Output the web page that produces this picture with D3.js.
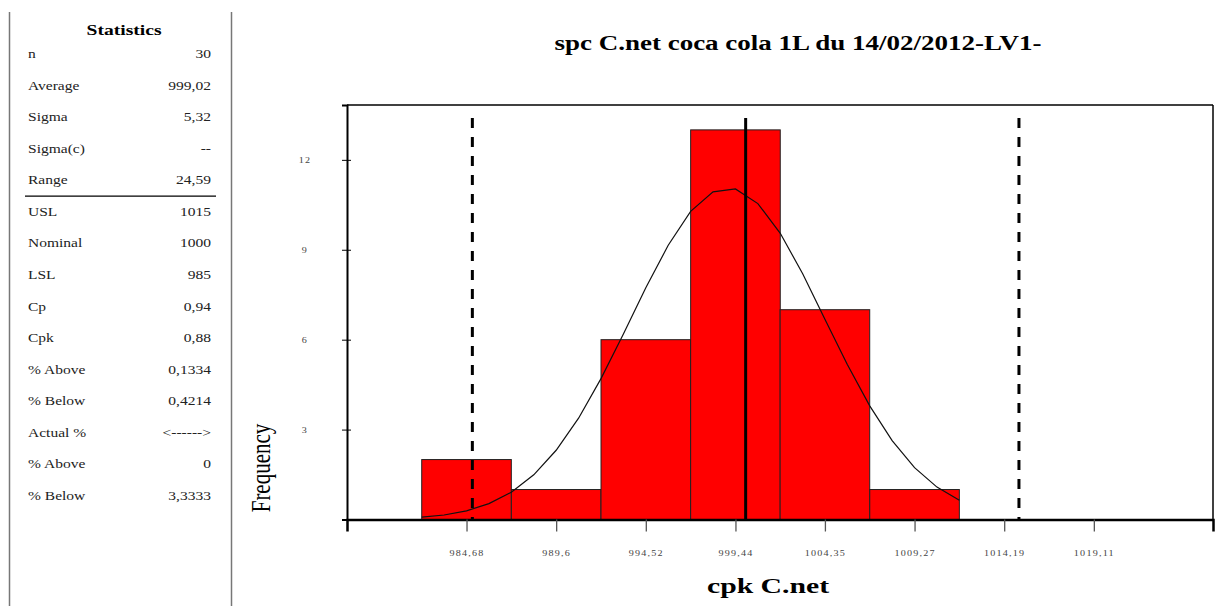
<!DOCTYPE html>
<html>
<head>
<meta charset="utf-8">
<script src="https://cdnjs.cloudflare.com/ajax/libs/d3/7.8.5/d3.min.js"></script>
<style>
  html, body { margin: 0; padding: 0; background: #fff; }
  svg { display: block; }
  text { font-family: "Liberation Serif", "Times New Roman", serif; }
</style>
</head>
<body>
<div id="chart"></div>
<script>
// --- data ---
const statLabels = ['n', 'Average', 'Sigma', 'Sigma(c)', 'Range', 'USL', 'Nominal', 'LSL',
  'Cp', 'Cpk', '% Above', '% Below', 'Actual %', '% Above', '% Below'];
const statValues = ['30', '999,02', '5,32', '--', '24,59', '1015', '1000', '985',
  '0,94', '0,88', '0,1334', '0,4214', '<------>', '0', '3,3333'];

const binCenters = [984.68, 989.6, 994.52, 999.44, 1004.35, 1009.27];
const binWidth = 4.918;
const counts = [2, 1, 6, 13, 7, 1];

const xTickValues = [984.68, 989.6, 994.52, 999.44, 1004.35, 1009.27, 1014.19, 1019.11];
const xTickLabels = ['984,68', '989,6', '994,52', '999,44', '1004,35', '1009,27', '1014,19', '1019,11'];
const yTickValues = [3, 6, 9, 12];

// fitted curve, vertices
const curveX = [982.22, 983.45, 984.68, 985.91, 987.14, 988.37, 989.6, 990.83, 992.06, 993.29,
  994.52, 995.75, 996.98, 998.21, 999.44, 1000.67, 1001.9, 1003.13, 1004.35, 1005.58,
  1006.81, 1008.04, 1009.27, 1010.5, 1011.73];
const curveY = [0.08, 0.15, 0.29, 0.53, 0.91, 1.49, 2.31, 3.38, 4.7, 6.19,
  7.73, 9.15, 10.28, 10.93, 11.03, 10.54, 9.55, 8.2, 6.68, 5.17,
  3.79, 2.63, 1.73, 1.08, 0.64];

const LSL = 985, NOMINAL = 1000, USL = 1015;

const W = 1219, H = 606;
const SX = 1.35; // the picture's text is stretched sideways

let svg = d3.select('#chart').append('svg')
  .attr('width', W)
  .attr('height', H);

// stretched text helper
function stext(g, x, y, str, opts) {
  return g.append('text')
    .attr('transform', `translate(${x},${y}) scale(${SX},1)`)
    .attr('text-anchor', opts.anchor || 'start')
    .attr('font-size', opts.size)
    .attr('font-weight', opts.weight || 'normal')
    .attr('fill', opts.fill || '#000')
    .text(str);
}

// ---- statistics panel ----
let panel = svg.append('g');
panel.append('line').attr('x1', 9.5).attr('x2', 9.5).attr('y1', 12).attr('y2', H)
  .attr('stroke', '#777').attr('stroke-width', 1.5);
panel.append('line').attr('x1', 231.5).attr('x2', 231.5).attr('y1', 12).attr('y2', H)
  .attr('stroke', '#777').attr('stroke-width', 1.5);

stext(panel, 124, 35, 'Statistics', { anchor: 'middle', size: 14.5, weight: 'bold' });

let rowY = d3.scaleLinear().domain([0, statLabels.length - 1]).range([58, 500]);
statLabels.forEach((lab, i) => {
  stext(panel, 28, rowY(i), lab, { size: 11.5, fill: '#222' });
  stext(panel, 211, rowY(i), statValues[i], { anchor: 'end', size: 11.5, fill: '#222' });
});
// separator under Range
panel.append('line')
  .attr('x1', 25).attr('x2', 216)
  .attr('y1', (rowY(4) + rowY(5)) / 2 - 4).attr('y2', (rowY(4) + rowY(5)) / 2 - 4)
  .attr('stroke', '#000').attr('stroke-width', 1.2);

// ---- histogram ----
let x = d3.scaleLinear().domain([978.12, 1025.65]).range([347, 1213]);
let y = d3.scaleLinear().domain([0, 13.83]).range([519.5, 105]);

let plot = svg.append('g');

plot.selectAll('rect.bar')
  .data(binCenters)
  .enter()
  .append('rect')
  .classed('bar', true)
  .attr('x', (d) => x(d - binWidth / 2))
  .attr('width', (d) => x(d + binWidth / 2) - x(d - binWidth / 2))
  .attr('y', (d, i) => y(counts[i]))
  .attr('height', (d, i) => y(0) - y(counts[i]))
  .attr('fill', '#ff0000')
  .attr('stroke', '#222')
  .attr('stroke-width', 1);

let line = d3.line()
  .x((d) => x(d[0]))
  .y((d) => y(d[1]));

plot.append('path')
  .datum(curveX.map((v, i) => [v, curveY[i]]))
  .attr('d', line)
  .attr('fill', 'none')
  .attr('stroke', '#111')
  .attr('stroke-width', 1.2);

// spec limits and nominal
[LSL, USL].forEach((v) => {
  plot.append('line')
    .attr('x1', x(v)).attr('x2', x(v))
    .attr('y1', y(13.4)).attr('y2', y(0))
    .attr('stroke', '#000')
    .attr('stroke-width', 3)
    .attr('stroke-dasharray', '10,9');
});
plot.append('line')
  .attr('x1', x(NOMINAL)).attr('x2', x(NOMINAL))
  .attr('y1', y(13.4)).attr('y2', y(0))
  .attr('stroke', '#000')
  .attr('stroke-width', 3);

// frame
plot.append('line').attr('x1', 347).attr('x2', 1213).attr('y1', 105).attr('y2', 105)
  .attr('stroke', '#000').attr('stroke-width', 1.3);
plot.append('line').attr('x1', 1213).attr('x2', 1213).attr('y1', 105).attr('y2', 520)
  .attr('stroke', '#000').attr('stroke-width', 1.5);

// x axis
let xAxis = d3.axisBottom(x)
  .tickValues(xTickValues)
  .tickFormat((d, i) => xTickLabels[i])
  .tickSizeOuter(0)
  .tickSize(12);

let gx = svg.append('g')
  .attr('transform', `translate(0,${y(0)})`)
  .call(xAxis);
gx.select('.domain').attr('stroke', '#000').attr('stroke-width', 2.5);
gx.selectAll('.tick line').attr('stroke', '#555').attr('stroke-width', 1.3);
gx.selectAll('.tick text')
  .attr('y', 0).attr('dy', 0)
  .attr('transform', `translate(0,36) scale(${SX},1)`)
  .attr('font-size', 7.5)
  .attr('letter-spacing', 0.9)
  .attr('fill', '#444')
  .attr('font-family', '"Liberation Serif", serif');

// y axis
let yAxis = d3.axisLeft(y)
  .tickValues(yTickValues)
  .tickSizeOuter(0)
  .tickSize(5);

let gy = svg.append('g')
  .attr('transform', `translate(347,0)`)
  .call(yAxis);
gy.select('.domain').attr('stroke', '#000').attr('stroke-width', 2);
gy.selectAll('.tick line').attr('x1', 4).attr('stroke', '#000').attr('stroke-width', 1);
gy.selectAll('.tick text')
  .attr('x', 0).attr('dy', 0)
  .attr('transform', `translate(-42,3) scale(${SX},1)`)
  .attr('text-anchor', 'middle')
  .attr('font-size', 7.5)
  .attr('letter-spacing', 0.9)
  .attr('fill', '#444')
  .attr('font-family', '"Liberation Serif", serif');

// titles
stext(svg, 798, 50, 'spc C.net coca cola 1L du 14/02/2012-LV1-', { anchor: 'middle', size: 20, weight: 'bold' });
stext(svg, 768, 593, 'cpk C.net', { anchor: 'middle', size: 22, weight: 'bold' });

svg.append('text')
  .attr('transform', `translate(270,468) rotate(-90) scale(1,${SX})`)
  .attr('text-anchor', 'middle')
  .attr('font-size', 21)
  .attr('fill', '#000')
  .text('Frequency');
</script>
</body>
</html>
